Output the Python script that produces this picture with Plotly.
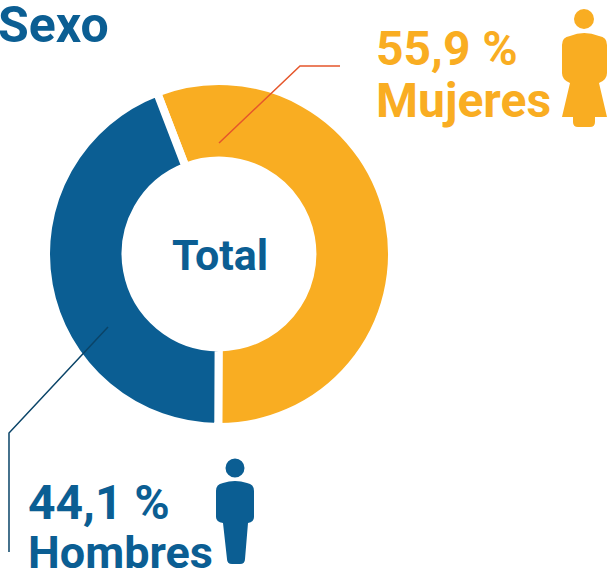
import plotly.graph_objects as go

categories = ["Mujeres", "Hombres"]
values = [55.9, 44.1]
value_labels = ["55,9 %", "44,1 %"]
title = "Sexo"
center_label = "Total"

ORANGE = "#F9AD22"
BLUE = "#0B5E93"
W, H = 610, 573


def X(x):
    return x / W


def Y(y):
    return 1 - y / H


def path(cmds):
    out = []
    for c, *pts in cmds:
        out.append(c + " ".join(f"{X(pts[i]):.5f},{Y(pts[i + 1]):.5f}" for i in range(0, len(pts), 2)))
    return " ".join(out) + " Z"


woman = path([
    ("M", 562, 45), ("Q", 562, 37, 570, 36), ("Q", 584, 30, 599, 36), ("Q", 607, 37, 607, 45),
    ("L", 607, 73), ("Q", 607, 80, 599, 83), ("L", 607, 117), ("L", 595, 117), ("L", 595, 122),
    ("Q", 595, 127, 590, 127), ("L", 578, 127), ("Q", 573, 127, 573, 122), ("L", 573, 117),
    ("L", 562, 117), ("L", 570, 83), ("Q", 562, 80, 562, 73),
])
man = path([
    ("M", 216, 491), ("Q", 216, 484, 223, 483), ("Q", 235, 479, 247, 483), ("Q", 254, 484, 254, 491),
    ("L", 254, 517), ("Q", 254, 522, 248, 523), ("L", 245, 559), ("Q", 245, 564, 240, 564),
    ("L", 232, 564), ("Q", 227, 564, 227, 559), ("L", 223, 523), ("Q", 216, 522, 216, 517),
])


def poly(points, color, width):
    cmds = [("M", *points[0])] + [("L", *p) for p in points[1:]]
    d = " ".join(f"{c}{X(p[0]):.5f},{Y(p[1]):.5f}" for c, *p in cmds)
    return dict(type="path", xref="paper", yref="paper", path=d, line=dict(color=color, width=width),
                fillcolor="rgba(0,0,0,0)", layer="above")


def circle(cx, cy, r, color):
    return dict(type="circle", xref="paper", yref="paper", x0=X(cx - r), x1=X(cx + r), y0=Y(cy + r), y1=Y(cy - r),
                fillcolor=color, line=dict(width=0), layer="above")


def blob(d, color):
    return dict(type="path", xref="paper", yref="paper", path=d, fillcolor=color, line=dict(width=0), layer="above")


def text(s, x, y, color, size, anchor="left"):
    return dict(text=f"<b>{s}</b>", xref="paper", yref="paper", x=X(x), y=Y(y), xanchor=anchor, yanchor="middle",
                showarrow=False, font=dict(family="Roboto", size=size, color=color))


fig = go.Figure(go.Pie(
    labels=categories,
    values=values,
    sort=False,
    direction="clockwise",
    rotation=-21,
    hole=0.54,
    marker=dict(colors=[ORANGE, BLUE], line=dict(color="white", width=8)),
    textinfo="none",
    showlegend=False,
    domain=dict(x=[X(46), X(392)], y=[Y(427), Y(81)]),
))

fig.update_layout(
    width=W, height=H,
    autosize=False,
    margin=dict(l=0, r=0, t=0, b=0),
    paper_bgcolor="white",
    shapes=[
        poly([(219, 143), (300, 66), (340, 66)], "#E5562B", 1.5),
        poly([(108, 327), (9, 433), (9, 552)], "#0A4468", 1.5),
        circle(584, 19, 10, ORANGE), blob(woman, ORANGE),
        circle(235, 468, 9.5, BLUE), blob(man, BLUE),
    ],
    annotations=[
        text(title, -4, 25, BLUE, 50),
        text(center_label, 220, 255, BLUE, 43, "center"),
        text(value_labels[0], 374, 49, ORANGE, 48),
        text(categories[0], 374, 100, ORANGE, 48),
        text(value_labels[1], 26, 503, BLUE, 48),
        text(categories[1], 26, 552, BLUE, 45),
    ],
)

fig.write_html("out.html", config=dict(displayModeBar=False),
               post_script="document.body.style.margin='0';document.body.style.overflow='hidden';")
